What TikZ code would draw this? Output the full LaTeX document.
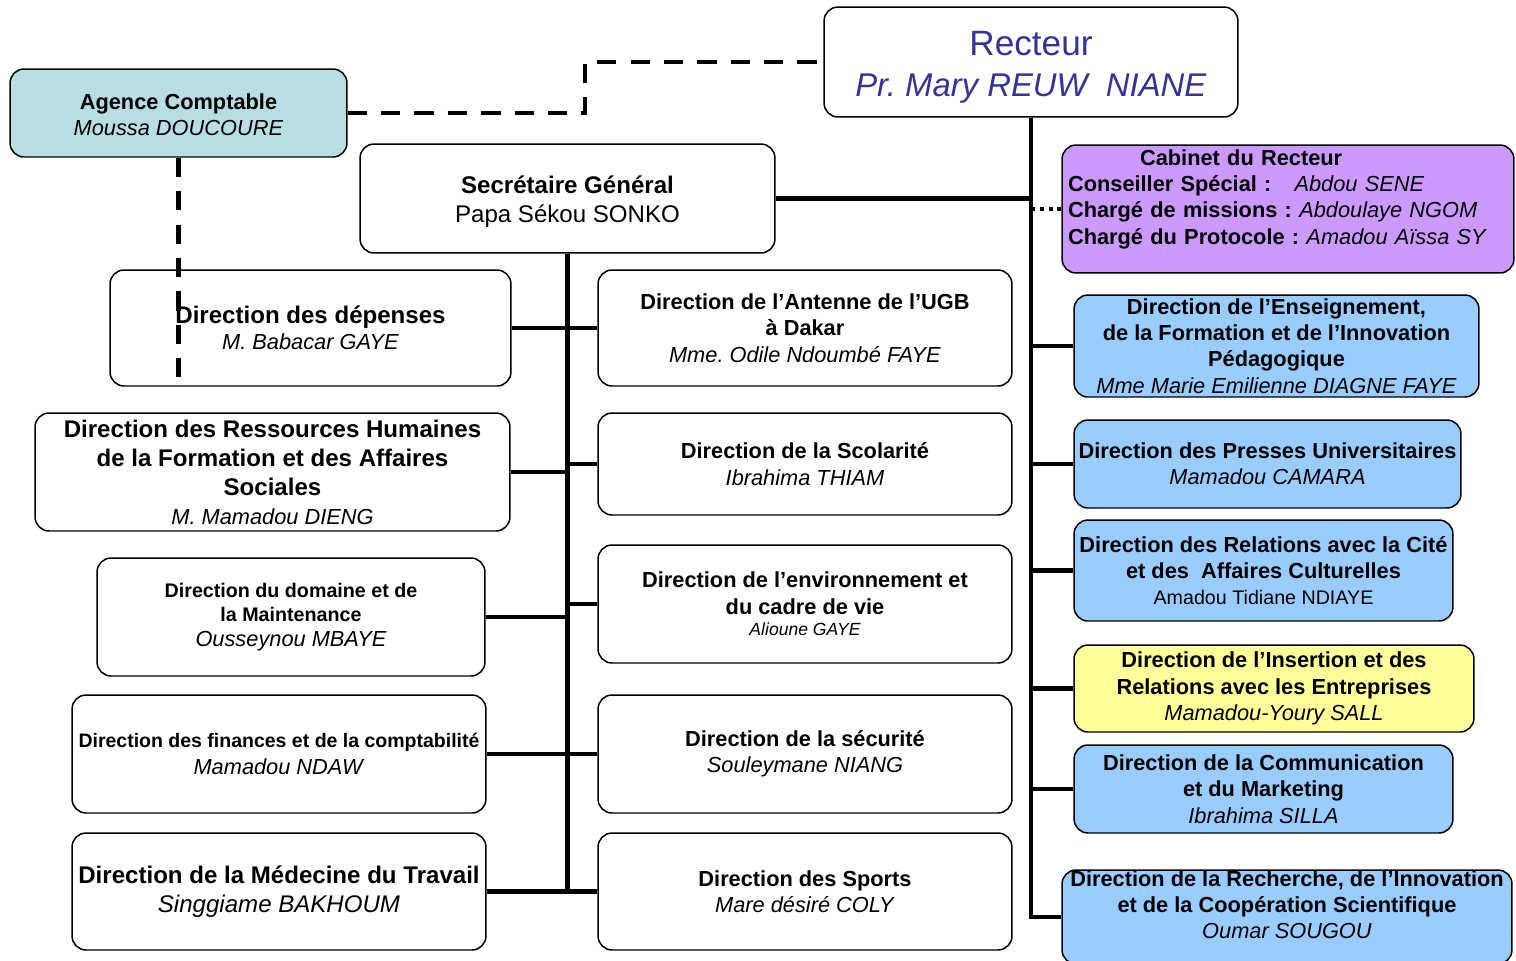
\documentclass[tikz,border=0pt]{standalone}
\usepackage{fontspec}
\setmainfont{Liberation Sans}
\frenchspacing
\definecolor{agenceteal}{RGB}{183,223,227}
\definecolor{cabpurple}{RGB}{204,153,255}
\definecolor{dirblue}{RGB}{153,204,255}
\definecolor{diryellow}{RGB}{255,255,153}
\definecolor{recteurblue}{RGB}{51,51,153}
\newcommand\fsA{\fontsize{12.4}{15}\selectfont}
\newcommand\fsB{\fontsize{13.7}{16.5}\selectfont}
\newcommand\fsC{\fontsize{11.2}{13.9}\selectfont}
\newcommand\fsD{\fontsize{10}{12}\selectfont}
\newcommand\fsE{\fontsize{18.7}{23}\selectfont}

\begin{document}
\begin{tikzpicture}[x=0.02cm, y=-0.02cm,
    box/.style={draw, line width=0.85pt, rounded corners=8pt, fill=white,
      align=center, inner sep=0pt, font=\fsA},
    link/.style={line width=2.8pt},
    dashlink/.style={line width=2.4pt, dash pattern=on 11pt off 8pt},
    dotlink/.style={line width=2.6pt, dash pattern=on 2.4pt off 2.6pt}]
  \useasboundingbox (0,0) rectangle (1516,961);

  % Recteur, Agence and Secretariat
  \node[box, minimum width=8.28cm, minimum height=2.2cm, font=\fsE, text=recteurblue] (recteur) at (1031,62)
    {\rule{0pt}{20pt}{\fontsize{20}{23}\selectfont Recteur}\\\textit{Pr. Mary REUW\ \ NIANE}};
  \node[box, fill=agenceteal, minimum width=6.74cm, minimum height=1.76cm] (agence) at (178.5,113)
    {\rule{0pt}{11pt}\textbf{Agence Comptable}\\\textit{Moussa DOUCOURE}};
  \node[box, minimum width=8.3cm, minimum height=2.18cm, font=\fsB] (sg) at (567.5,198.5)
    {\rule{0pt}{14pt}\textbf{Secrétaire Général}\\Papa Sékou SONKO};
  \node[box, fill=cabpurple, minimum width=9.04cm, minimum height=2.56cm, text width=8.8cm, align=left] (cabinet) at (1288,209)
    {\hspace*{41pt}\textbf{Cabinet du Recteur}\\
     \makebox[128.9pt][l]{\textbf{Conseiller Spécial :}}\textit{Abdou SENE}\\
     \textbf{Chargé de missions :} \textit{Abdoulaye NGOM}\\
     \textbf{Chargé du Protocole :} \textit{Amadou Aïssa SY}\rule[-14pt]{0pt}{0pt}};

  % Left column (Secretariat)
  \node[box, minimum width=8.02cm, minimum height=2.32cm] (depenses) at (310.5,328)
    {{\fsB\bfseries Direction des dépenses}\\\textit{M. Babacar GAYE}};
  \node[box, minimum width=9.5cm, minimum height=2.36cm, font=\fsB] (drh) at (272.5,472)
    {\textbf{Direction des Ressources Humaines}\\\textbf{de la Formation et des Affaires}\\\textbf{Sociales}\\{\fsA\itshape M. Mamadou DIENG}};
  \node[box, minimum width=7.76cm, minimum height=2.36cm, font=\fsC] (domaine) at (291,617)
    {\textbf{Direction du domaine et de}\\\textbf{la Maintenance}\\{\fsA\itshape Ousseynou MBAYE}};
  \node[box, minimum width=8.28cm, minimum height=2.36cm] (finances) at (279,754)
    {{\fontsize{11.1}{13}\selectfont\bfseries Direction des finances et de la comptabilité}\\\textit{Mamadou NDAW}};
  \node[box, minimum width=8.28cm, minimum height=2.34cm, font=\fsB] (medecine) at (279,891.5)
    {\textbf{Direction de la Médecine du Travail}\\\textit{Singgiame BAKHOUM}};

  % Middle column (Secretariat)
  \node[box, minimum width=8.28cm, minimum height=2.32cm] (antenne) at (805,328)
    {\textbf{Direction de l’Antenne de l’UGB}\\\textbf{à Dakar}\\\textit{Mme. Odile Ndoumbé FAYE}};
  \node[box, minimum width=8.28cm, minimum height=2.04cm] (scolarite) at (805,464)
    {\textbf{Direction de la Scolarité}\\\textit{Ibrahima THIAM}};
  \node[box, minimum width=8.28cm, minimum height=2.36cm] (environnement) at (805,604)
    {\textbf{Direction de l’environnement et}\\\textbf{du cadre de vie}\\[-2.5pt]{\fsD\itshape Alioune GAYE}};
  \node[box, minimum width=8.28cm, minimum height=2.36cm] (securite) at (805,754)
    {\textbf{Direction de la sécurité}\\\textit{Souleymane NIANG}};
  \node[box, minimum width=8.28cm, minimum height=2.34cm] (sports) at (805,891.5)
    {\textbf{Direction des Sports}\\\textit{Mare désiré COLY}};

  % Right column (Recteur)
  \node[box, fill=dirblue, minimum width=8.1cm, minimum height=2.04cm] (defip) at (1276.5,346)
    {\textbf{Direction de l’Enseignement,}\\\textbf{de la Formation et de l’Innovation}\\\textbf{Pédagogique}\\\textit{Mme Marie Emilienne DIAGNE FAYE}};
  \node[box, fill=dirblue, minimum width=7.74cm, minimum height=1.76cm] (presses) at (1267.5,464)
    {\textbf{Direction des Presses Universitaires}\\\textit{Mamadou CAMARA}};
  \node[box, fill=dirblue, minimum width=7.58cm, minimum height=2.02cm] (relations) at (1263.5,570.5)
    {\textbf{Direction des Relations avec la Cité}\\\textbf{et des\ \ Affaires Culturelles}\\{\fsC Amadou Tidiane NDIAYE}};
  \node[box, fill=diryellow, minimum width=8cm, minimum height=1.74cm] (insertion) at (1274,688.5)
    {\textbf{Direction de l’Insertion et des}\\\textbf{Relations avec les Entreprises}\\\textit{Mamadou-Youry SALL}};
  \node[box, fill=dirblue, minimum width=7.58cm, minimum height=1.76cm] (communication) at (1263.5,789)
    {\textbf{Direction de la Communication}\\\textbf{et du Marketing}\\\textit{Ibrahima SILLA}};
  \node[box, fill=dirblue, minimum width=9cm, minimum height=1.88cm] (recherche) at (1287,917)
    {\textbf{Direction de la Recherche, de l’Innovation}\\\textbf{et de la Coopération Scientifique}\\\textit{Oumar SOUGOU}\rule[-14pt]{0pt}{0pt}};

  % Links from the Recteur
  \draw[link] (recteur.south) |- (recherche.west);
  \draw[link] (recteur.south |- sg.east) -- (sg.east);
  \foreach \n in {defip,presses,relations,insertion,communication}
    \draw[link] (recteur.south |- \n.west) -- (\n.west);
  \draw[dotlink] (recteur.south |- cabinet.west) -- (cabinet.west);

  % Links from the Secretariat
  \draw[link] (sg.south) -- (sg.south |- medecine.east);
  \foreach \n in {depenses,drh,domaine,finances,medecine}
    \draw[link] (sg.south |- \n.east) -- (\n.east);
  \foreach \n in {antenne,scolarite,environnement,securite,sports}
    \draw[link] (sg.south |- \n.west) -- (\n.west);

  % Agence (dashed)
  \coordinate (agbend) at (585,0);
  \coordinate (agend) at (180,377);
  \draw[dashlink] (agence.east) -| (agbend |- recteur.west) -- (recteur.west);
  \draw[dashlink] (agence.south) -- (agence.south |- agend);
\end{tikzpicture}
\end{document}
